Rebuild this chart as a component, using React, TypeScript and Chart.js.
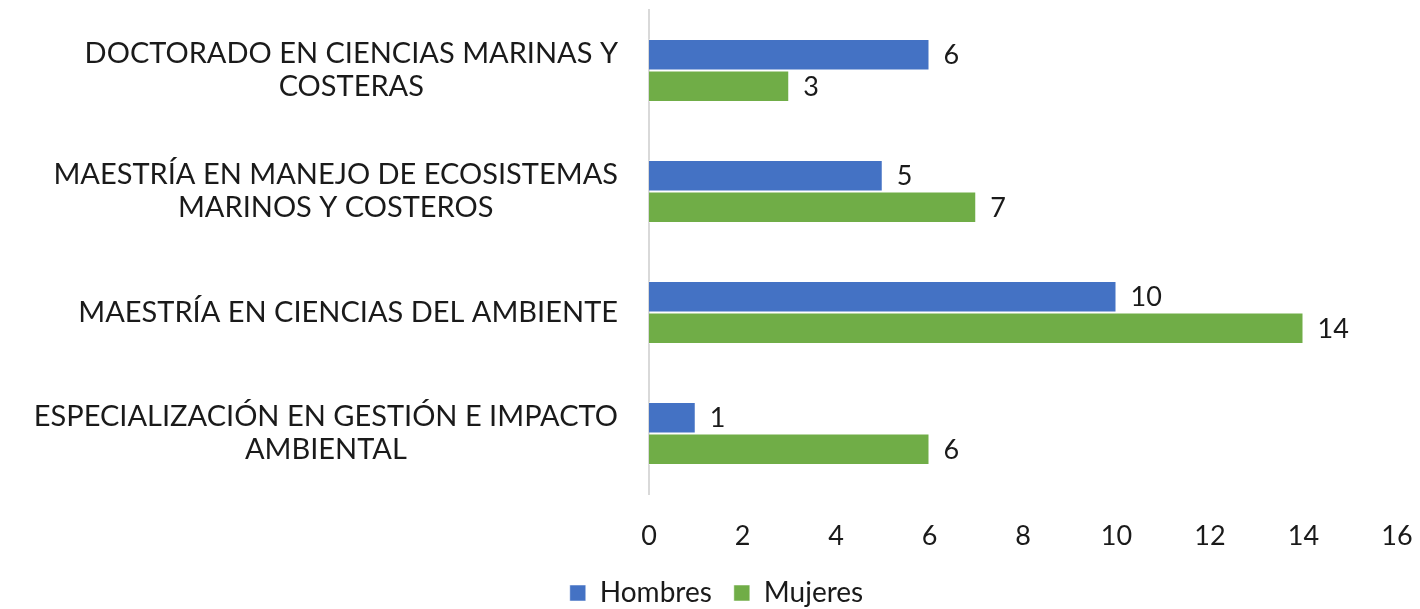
import React, { useEffect, useRef } from "react";
import { Chart, registerables } from "chart.js";

Chart.register(...registerables);

const categories: string[][] = [
  ["DOCTORADO EN CIENCIAS MARINAS Y", "COSTERAS"],
  ["MAESTRÍA EN MANEJO DE ECOSISTEMAS", "MARINOS Y COSTEROS"],
  ["MAESTRÍA EN CIENCIAS DEL AMBIENTE"],
  ["ESPECIALIZACIÓN EN GESTIÓN E IMPACTO", "AMBIENTAL"],
];
const hombres: number[] = [6, 5, 10, 1];
const mujeres: number[] = [3, 7, 14, 6];
const seriesNames: string[] = ["Hombres", "Mujeres"];
const xMin = 0;
const xMax = 16;
const xStep = 2;

const FONT = "Lato, 'Open Sans', sans-serif";
const TEXT = "#1a1a1a";

const categoryLabelPlugin = {
  id: "categoryLabels",
  afterDraw(chart: any) {
    const { ctx, chartArea } = chart;
    const yScale = chart.scales.y;
    ctx.save();
    ctx.font = `29px ${FONT}`;
    ctx.fillStyle = TEXT;
    ctx.textAlign = "center";
    ctx.textBaseline = "middle";
    const right = chartArea.left - 31;
    const lh = 33;
    categories.forEach((lines, i) => {
      const yc = yScale.getPixelForValue(i);
      const maxW = Math.max(...lines.map((l) => ctx.measureText(l).width));
      const cx = right - maxW / 2;
      const y0 = yc - ((lines.length - 1) * lh) / 2;
      lines.forEach((l, j) => ctx.fillText(l, cx, y0 + j * lh));
    });
    ctx.restore();
  },
};

const valueLabelPlugin = {
  id: "valueLabels",
  afterDatasetsDraw(chart: any) {
    const { ctx } = chart;
    ctx.save();
    ctx.font = `27px ${FONT}`;
    ctx.fillStyle = TEXT;
    ctx.textAlign = "left";
    ctx.textBaseline = "middle";
    chart.data.datasets.forEach((ds: any, di: number) => {
      const meta = chart.getDatasetMeta(di);
      meta.data.forEach((bar: any, i: number) => {
        ctx.fillText(String(ds.data[i]), bar.x + 14, bar.y + 1);
      });
    });
    ctx.restore();
  },
};

export default function App() {
  const ref = useRef<HTMLCanvasElement | null>(null);
  useEffect(() => {
    if (!ref.current) return;
    const chart = new Chart(ref.current, {
      type: "bar",
      data: {
        labels: categories.map((c) => c.join(" ")),
        datasets: [
          {
            label: seriesNames[0],
            data: hombres,
            backgroundColor: "#4472C4",
            borderColor: "rgba(255,255,255,0.5)",
            borderWidth: 1,
            barPercentage: 1,
            categoryPercentage: 0.52,
          },
          {
            label: seriesNames[1],
            data: mujeres,
            backgroundColor: "#70AD47",
            borderColor: "rgba(255,255,255,0.5)",
            borderWidth: 1,
            barPercentage: 1,
            categoryPercentage: 0.52,
          },
        ],
      },
      options: {
        indexAxis: "y",
        animation: false,
        responsive: true,
        maintainAspectRatio: false,
        layout: { padding: { top: 10, right: 23, bottom: -8, left: 36 } },
        scales: {
          x: {
            min: xMin,
            max: xMax,
            ticks: {
              stepSize: xStep,
              font: { size: 27, family: FONT },
              color: TEXT,
              padding: 26,
              maxRotation: 0,
            },
            grid: { display: false, drawTicks: false },
            border: { display: false },
            afterFit(scale: any) {
              scale.height = 63;
              scale.paddingRight = 0;
              scale.paddingLeft = 0;
            },
          },
          y: {
            ticks: { display: false },
            grid: { display: false, drawTicks: false },
            border: { display: true, color: "#d9d9d9", width: 2 },
            afterFit(scale: any) {
              scale.width = 613;
            },
          },
        },
        plugins: {
          legend: {
            position: "bottom",
            labels: {
              font: { size: 28, family: FONT },
              color: TEXT,
              boxWidth: 16,
              boxHeight: 16,
              padding: 22,
            },
          },
          tooltip: { enabled: false },
        },
      },
      plugins: [categoryLabelPlugin, valueLabelPlugin],
    });
    return () => chart.destroy();
  }, []);
  return (
    <div style={{ position: "absolute", left: 0, top: 0, width: 1420, height: 609, background: "#fff" }}>
      <canvas ref={ref} />
    </div>
  );
}
